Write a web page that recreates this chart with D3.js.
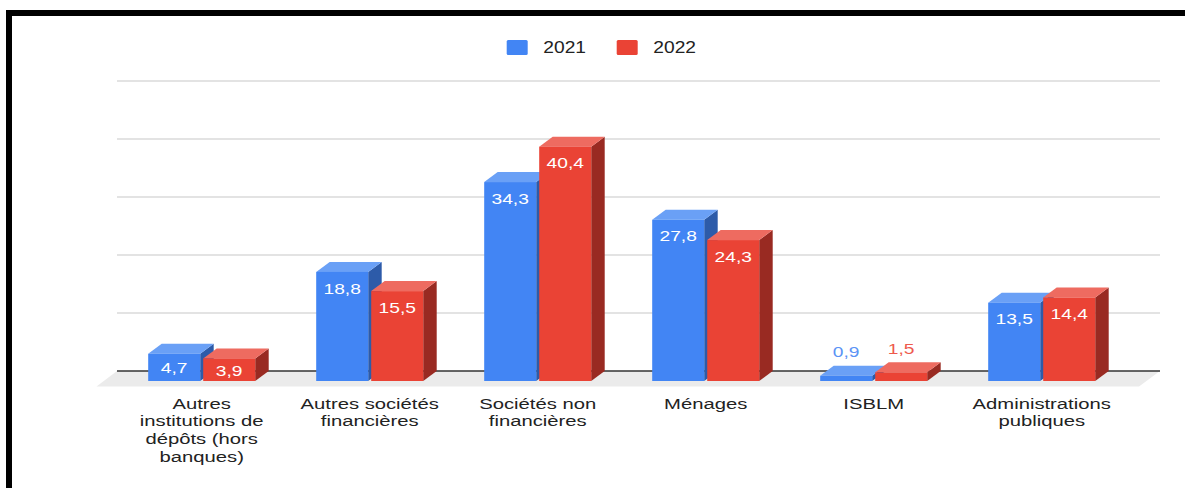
<!DOCTYPE html>
<html>
<head>
<meta charset="utf-8">
<script src="https://cdn.jsdelivr.net/npm/d3@7"></script>
<style>
  html, body { margin: 0; padding: 0; background: #fff; }
  svg { display: block; }
  text { font-family: "Liberation Sans", Arial, sans-serif; }
</style>
</head>
<body>
<svg id="chart" width="1185" height="488"></svg>
<script>
// ---- data ----
const categories = [
  "Autres institutions de dépôts (hors banques)",
  "Autres sociétés financières",
  "Sociétés non financières",
  "Ménages",
  "ISBLM",
  "Administrations publiques"
];
const categoryLines = [
  ["Autres", "institutions de", "dépôts (hors", "banques)"],
  ["Autres sociétés", "financières"],
  ["Sociétés non", "financières"],
  ["Ménages"],
  ["ISBLM"],
  ["Administrations", "publiques"]
];
const seriesNames = ["2021", "2022"];
const values2021 = [4.7, 18.8, 34.3, 27.8, 0.9, 13.5];
const values2022 = [3.9, 15.5, 40.4, 24.3, 1.5, 14.4];
const yTicks = [0, 10, 20, 30, 40, 50];

// ---- styles ----
const palette = {
  "2021": { front: "#4285f4", top: "#6aa0f6", side: "#2d5ba9", label: "#5b93f5" },
  "2022": { front: "#ea4335", top: "#ee6b60", side: "#992a22", label: "#ee5a4d" }
};
const depthX = 13.5, depthY = -10;
const plotLeft = 117, plotRight = 1160;
const sxAxis = 1.35, sxData = 1.24, sxLegend = 1.2;

const svg = d3.select("#chart");

const x = d3.scaleBand().domain(categories).range([117.7, 1125.7])
  .paddingInner(0.363).paddingOuter(0.1815);
const xs = d3.scaleBand().domain(seriesNames).range([0, x.bandwidth()]).paddingInner(0.0545);
const yFront = d3.scaleLinear().domain([0, 50]).range([381, 91]);
const yBack = v => yFront(v) + depthY;

// frame
svg.append("rect").attr("x", 6).attr("y", 10).attr("width", 1179).attr("height", 6).attr("fill", "#000");
svg.append("rect").attr("x", 6).attr("y", 10).attr("width", 6).attr("height", 478).attr("fill", "#000");

// floor
const fy0 = yBack(0), fy1 = fy0 + 15.5;
svg.append("path")
  .attr("d", `M${plotLeft},${fy0}L${plotRight},${fy0}L${plotRight - 21},${fy1}L${plotLeft - 20.5},${fy1}Z`)
  .attr("fill", "#ebebeb");

// gridlines
svg.append("g").selectAll("line").data(yTicks.filter(t => t > 0)).join("line")
  .attr("x1", plotLeft).attr("x2", plotRight)
  .attr("y1", d => yBack(d)).attr("y2", d => yBack(d))
  .attr("stroke", "#dadada").attr("stroke-width", 1.6);
// baseline
svg.append("line").attr("x1", plotLeft).attr("x2", plotRight)
  .attr("y1", yBack(0)).attr("y2", yBack(0))
  .attr("stroke", "#333").attr("stroke-width", 1.3);

// bars
const rows = categories.map((c, i) => ({
  cat: c,
  bars: [
    { s: "2021", v: values2021[i] },
    { s: "2022", v: values2022[i] }
  ]
}));

const gBars = svg.append("g");
rows.forEach(row => {
  row.bars.forEach(b => {
    const x0 = x(row.cat) + xs(b.s);
    const w = xs.bandwidth();
    const yt = yFront(b.v), yb = yFront(0);
    const col = palette[b.s];
    const g = gBars.append("g");
    // side
    g.append("path")
      .attr("d", `M${x0 + w},${yt}L${x0 + w + depthX},${yt + depthY}L${x0 + w + depthX},${yb + depthY}L${x0 + w},${yb}Z`)
      .attr("fill", col.side);
    // top
    g.append("path")
      .attr("d", `M${x0},${yt}L${x0 + depthX},${yt + depthY}L${x0 + w + depthX},${yt + depthY}L${x0 + w},${yt}Z`)
      .attr("fill", col.top);
    // front
    g.append("rect").attr("x", x0).attr("y", yt).attr("width", w).attr("height", yb - yt)
      .attr("fill", col.front);
    // label
    const h = yb - yt;
    const cx = x0 + w / 2;
    let ty, fill;
    if (h >= 18) {
      ty = Math.min(yt + 21.6, (yt + yb) / 2 + 6);
      fill = "#ffffff";
    } else {
      ty = yt + depthY - 8.5;
      fill = col.label;
    }
    g.append("text")
      .attr("transform", `translate(${cx},${ty}) scale(${sxData},1)`)
      .attr("text-anchor", "middle")
      .attr("font-size", 15.5)
      .attr("fill", fill)
      .text(d3.format(".1f")(b.v).replace(".", ","));
  });
});

// x axis labels
const gAxis = svg.append("g");
categories.forEach((c, i) => {
  const cx = x(c) + x.bandwidth() / 2;
  categoryLines[i].forEach((line, j) => {
    gAxis.append("text")
      .attr("transform", `translate(${cx},${408.5 + j * 17.7}) scale(${sxAxis},1)`)
      .attr("text-anchor", "middle")
      .attr("font-size", 15)
      .attr("fill", "#222")
      .text(line);
  });
});

// legend
const legendX = [506.7, 616.7];
const gLeg = svg.append("g");
seriesNames.forEach((s, i) => {
  gLeg.append("rect").attr("x", legendX[i]).attr("y", 40).attr("width", 21).attr("height", 15)
    .attr("rx", 1.5).attr("fill", palette[s].front);
  gLeg.append("text")
    .attr("transform", `translate(${legendX[i] + 36.6},53.3) scale(${sxLegend},1)`)
    .attr("font-size", 16)
    .attr("fill", "#222")
    .text(s);
});
</script>
</body>
</html>
